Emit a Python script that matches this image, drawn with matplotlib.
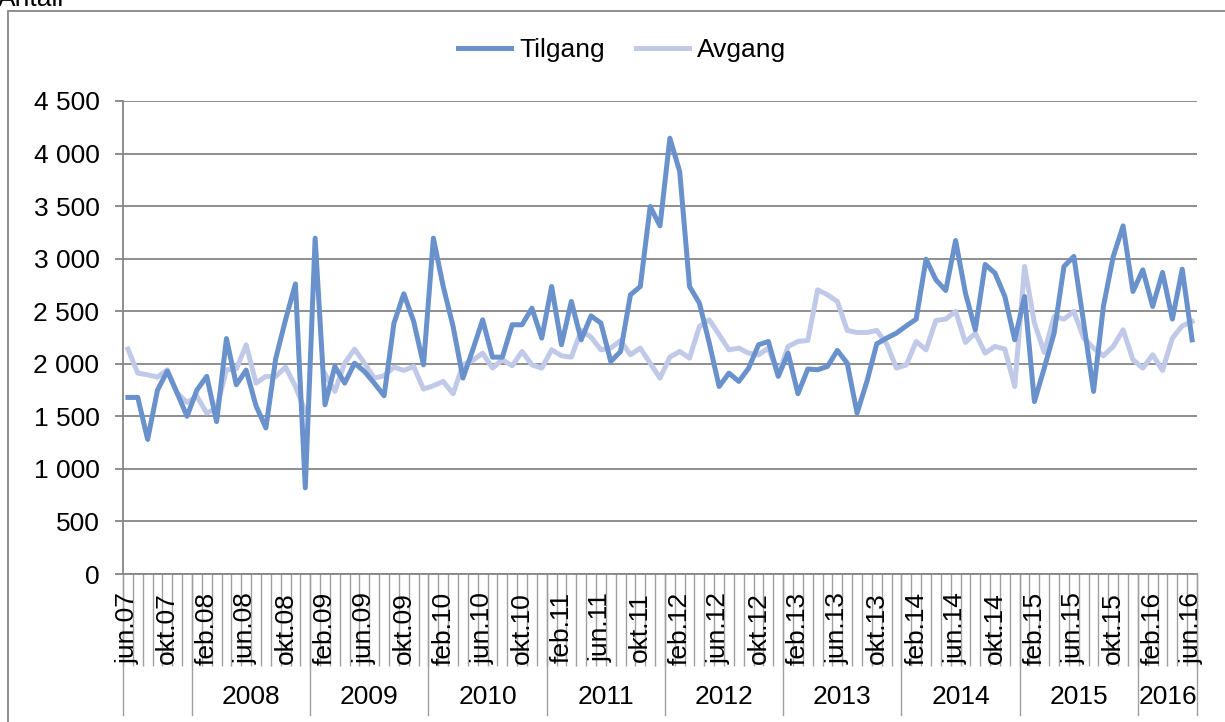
import numpy as np
import matplotlib
matplotlib.use("Agg")
import matplotlib.pyplot as plt
from matplotlib.ticker import FuncFormatter, MultipleLocator
from matplotlib.patches import Rectangle

plt.rcParams['font.family'] = ['Liberation Sans', 'DejaVu Sans']

# månedlige verdier, jun.07 - jun.16 (109 måneder)
tilgang = [1680, 1680, 1280, 1750, 1930, 1720, 1500, 1750, 1880, 1450,
           2240, 1800, 1940, 1600, 1390, 2050, 2420, 2760, 820, 3195,
           1610, 1975, 1816, 2006, 1927, 1816, 1696, 2387, 2666, 2403,
           1990, 3195, 2735, 2355, 1864, 2133, 2418, 2063, 2063, 2371,
           2371, 2529, 2244, 2735, 2181, 2593, 2228, 2456, 2387, 2022,
           2117, 2656, 2735, 3496, 3312, 4146, 3829, 2735, 2577, 2197,
           1784, 1911, 1832, 1959, 2181, 2212, 1880, 2101, 1715, 1950,
           1943, 1975, 2127, 2006, 1531, 1832, 2190, 2244, 2292, 2361,
           2425, 2995, 2799, 2697, 3173, 2672, 2323, 2945, 2862, 2640,
           2228, 2640, 1640, 1960, 2292, 2926, 3021, 2390, 1737, 2545,
           3021, 3312, 2688, 2894, 2545, 2869, 2425, 2900, 2228]

avgang = [2140, 1911, 1895, 1873, 1943, 1721, 1632, 1690, 1531, 1578,
          1943, 1950, 2180, 1816, 1880, 1880, 1968, 1784, 1547, np.nan,
          1905, 1737, 2006, 2140, 2006, 1864, 1886, 1968, 1937, 1975,
          1759, 1791, 1832, 1715, 1990, 2032, 2101, 1959, 2038, 1981,
          2117, 1990, 1959, 2133, 2076, 2063, 2317, 2254, 2133, 2149,
          2222, 2086, 2149, 2006, 1864, 2063, 2117, 2054, 2355, 2418,
          2276, 2133, 2149, 2101, 2086, 2149, 1895, 2165, 2212, 2222,
          2704, 2656, 2593, 2317, 2298, 2298, 2317, 2190, 1959, 1990,
          2212, 2133, 2412, 2425, 2498, 2203, 2292, 2101, 2165, 2140,
          1784, 2926, 2387, 2108, 2450, 2425, 2498, 2244, 2149, 2076,
          2165, 2323, 2038, 1959, 2086, 1937, 2244, 2361, 2402]

# hver fjerde måned vises
month_labels = ['jun.07', 'okt.07', 'feb.08', 'jun.08', 'okt.08', 'feb.09', 'jun.09',
                'okt.09', 'feb.10', 'jun.10', 'okt.10', 'feb.11', 'jun.11', 'okt.11',
                'feb.12', 'jun.12', 'okt.12', 'feb.13', 'jun.13', 'okt.13', 'feb.14',
                'jun.14', 'okt.14', 'feb.15', 'jun.15', 'okt.15', 'feb.16', 'jun.16']
years = ['', '2008', '2009', '2010', '2011', '2012', '2013', '2014', '2015', '2016']
months_in_year = [7, 12, 12, 12, 12, 12, 12, 12, 12, 6]

c_til = '#6991cc'
c_avg = '#c0c9e7'
grid_c = '#868686'
fs = 19

n = len(tilgang)
x = np.arange(n)

fig = plt.figure(figsize=(12.25, 7.22), dpi=100)
ax = fig.add_axes([123 / 1225, 1 - 574 / 722, 1074 / 1225, 473 / 722])

ax.plot(x, tilgang, color=c_til, lw=3.6, label='Tilgang', solid_joinstyle='round', zorder=3)
ax.plot(x, avgang, color=c_avg, lw=3.6, label='Avgang', solid_joinstyle='round', zorder=2)

ax.set_xlim(-0.5, n - 0.5)
ax.set_ylim(0, 4500)
ax.yaxis.set_major_locator(MultipleLocator(500))
ax.yaxis.set_major_formatter(FuncFormatter(lambda v, p: f"{int(v):,}".replace(",", " ")))
ax.grid(axis='y', color=grid_c, lw=1.3)
ax.set_axisbelow(True)

for s in ['top', 'right']:
    ax.spines[s].set_visible(False)
for s in ['left', 'bottom']:
    ax.spines[s].set_color(grid_c)
    ax.spines[s].set_linewidth(1.3)

ax.tick_params(axis='y', length=6, width=1.3, color=grid_c, pad=11, labelsize=fs)

# kategoriskiller som lange tick-streker
ax.set_xticks(np.arange(n + 1) - 0.5)
ax.set_xticklabels([])
ax.tick_params(axis='x', length=66, width=1.0, color='#a0a0a0')

trans = ax.get_xaxis_transform()
for k, lab in enumerate(month_labels):
    ax.text(4 * k, -0.038, lab, transform=trans, rotation=90, ha='center', va='top',
            fontsize=fs, color='black')

# årsnivå
start = -0.5
for yr, m in zip(years, months_in_year):
    ax.plot([start, start], [0, -0.298], transform=trans, color='#a0a0a0', lw=1.0, clip_on=False)
    ax.text(start + m / 2, -0.26, yr, transform=trans, ha='center', va='center', fontsize=fs)
    start += m
ax.plot([start, start], [0, -0.298], transform=trans, color='#a0a0a0', lw=1.0, clip_on=False)

fig.legend(loc='center', bbox_to_anchor=(0.508, 1 - 50 / 722), ncol=2, frameon=False,
           fontsize=fs, handlelength=2.0, handletextpad=0.3, columnspacing=1.2)

fig.text(-2 / 1225, 1 - 6 / 722, 'Antall', ha='left', va='baseline', fontsize=fs)

fig.patches.append(Rectangle((8 / 1225, -0.05), 1.1, 1 - 11 / 722 + 0.05, transform=fig.transFigure,
                             fill=False, edgecolor=grid_c, lw=1.3))

fig.savefig('out.png', dpi=100)
